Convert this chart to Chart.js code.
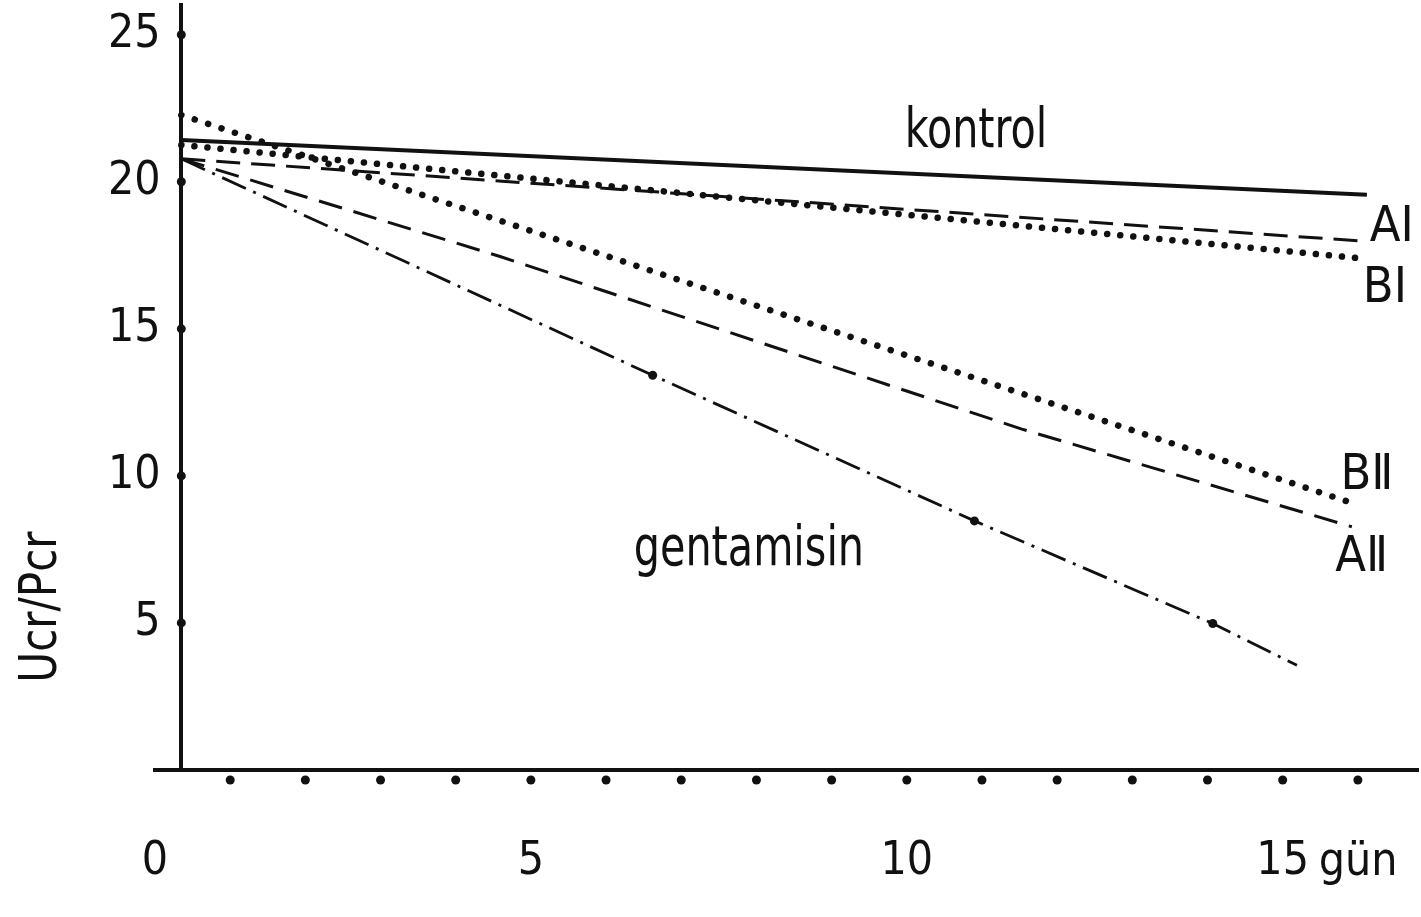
<!DOCTYPE html>
<html>
<head>
<meta charset="utf-8">
<script src="https://cdn.jsdelivr.net/npm/chart.js@4.4.1/dist/chart.umd.min.js"></script>
<style>
html, body { margin: 0; padding: 0; background: #fff; }
#wrap { width: 1421px; height: 917px; }
</style>
</head>
<body>
<div id="wrap"><canvas id="myChart"></canvas></div>
<script>
var FONT = "'Liberation Sans Narrow', 'DejaVu Sans Condensed', 'Liberation Sans', sans-serif";
var INK = '#111';

// values (x = gün, y = Ucr/Pcr)
var kontrolDays = [0.35, 16.12];
var kontrol = [21.42, 19.56];
var aiDays = [0.35, 16.13];
var ai = [20.78, 17.97];
var biDays = [0.35, 16.06];
var bi = [21.25, 17.39];
var biiDays = [0.35, 15.92];
var bii = [22.27, 9.08];
var aiiDays = [0.35, 4.59, 11.53, 15.92];
var aii = [20.78, 17.46, 11.59, 8.27];
var gentDays = [0.35, 6.62, 10.90, 14.07, 15.19];
var gent = [20.78, 13.42, 8.47, 4.98, 3.56];

var yTickValues = [5, 10, 15, 20, 25];
var xDotDays = [1, 2, 3, 4, 5, 6, 7, 8, 9, 10, 11, 12, 13, 14, 15, 16];

// text written next to the lines, placed in data units
var noteTexts = ['kontrol', 'gentamisin', 'A\u2160', 'B\u2160', 'B\u2161', 'A\u2161'];
var noteDays = [10.92, 7.9, 16.45, 16.36, 16.12, 16.05];
var noteValues = [21.69, 7.46, 18.44, 16.34, 10.0, 7.22];

function pts(xs, ys) {
    return xs.map(function(x, i) { return { x: x, y: ys[i] }; });
}

var extras = {
    id: 'extras',
    afterDraw: function(chart) {
        var ctx = chart.ctx;
        var xs = chart.scales.x, ys = chart.scales.y;
        var axisX = xs.getPixelForValue(0.35);
        var axisY = ys.getPixelForValue(0);
        ctx.save();
        ctx.fillStyle = INK;
        // tick dots
        yTickValues.forEach(function(v) {
            ctx.beginPath();
            ctx.arc(axisX, ys.getPixelForValue(v), 4.5, 0, Math.PI * 2);
            ctx.fill();
        });
        xDotDays.forEach(function(d) {
            ctx.beginPath();
            ctx.arc(xs.getPixelForValue(d), axisY + 10, 4.5, 0, Math.PI * 2);
            ctx.fill();
        });
        ctx.textAlign = 'center';
        ctx.textBaseline = 'middle';
        // notes (hand lettering is narrow, so squeeze the big ones)
        noteTexts.forEach(function(t, i) {
            var px = xs.getPixelForValue(noteDays[i]);
            var py = ys.getPixelForValue(noteValues[i]);
            ctx.save();
            if (i < 2) {
                ctx.font = '56px ' + FONT;
                ctx.translate(px, py);
                ctx.scale(0.82, 1);
                ctx.fillText(t, 0, 0);
            } else {
                ctx.font = '50px ' + FONT;
                ctx.fillText(t, px, py);
            }
            ctx.restore();
        });
        // unit after the 15 label
        ctx.font = '46px ' + FONT;
        ctx.textAlign = 'left';
        ctx.textBaseline = 'alphabetic';
        ctx.fillText('gün', xs.getPixelForValue(15) + 36, 875);
        // y title
        ctx.textBaseline = 'middle';
        ctx.translate(42, 607);
        ctx.rotate(-Math.PI / 2);
        ctx.scale(0.9, 1);
        ctx.textAlign = 'center';
        ctx.font = '52px ' + FONT;
        ctx.fillText('Ucr/Pcr', 0, 0);
        ctx.restore();
    }
};

var ctx = document.getElementById('myChart').getContext('2d');
var myChart = new Chart(ctx, {
    type: 'line',
    data: {
        datasets: [{
            label: 'kontrol',
            data: pts(kontrolDays, kontrol),
            borderColor: INK,
            borderWidth: 4
        }, {
            label: 'A I',
            data: pts(aiDays, ai),
            borderColor: INK,
            borderWidth: 3,
            borderDash: [24, 11]
        }, {
            label: 'B I',
            data: pts(biDays, bi),
            borderColor: INK,
            borderWidth: 6.5,
            borderCapStyle: 'round',
            borderDash: [0.1, 13]
        }, {
            label: 'B II',
            data: pts(biiDays, bii),
            borderColor: INK,
            borderWidth: 6.5,
            borderCapStyle: 'round',
            borderDash: [0.1, 14]
        }, {
            label: 'A II',
            data: pts(aiiDays, aii),
            borderColor: INK,
            borderWidth: 3,
            borderDash: [24, 12]
        }, {
            label: 'gentamisin',
            data: pts(gentDays, gent),
            borderColor: INK,
            borderWidth: 2.8,
            borderDash: [26, 8, 3, 8],
            pointBackgroundColor: INK,
            pointBorderWidth: 0,
            pointRadius: function(c) {
                return (c.dataIndex > 0 && c.dataIndex < gent.length - 1) ? 4.5 : 0;
            }
        }]
    },
    options: {
        responsive: true,
        maintainAspectRatio: false,
        animation: false,
        elements: { point: { radius: 0 }, line: { tension: 0 } },
        layout: { padding: { left: 155, right: 3, top: 4, bottom: 0 } },
        plugins: { legend: { display: false }, tooltip: { enabled: false } },
        scales: {
            x: {
                type: 'linear',
                position: 'bottom',
                min: 0,
                max: 16.8,
                grid: { display: false },
                border: { display: true, color: INK, width: 4 },
                ticks: {
                    stepSize: 5,
                    includeBounds: false,
                    autoSkip: false,
                    maxRotation: 0,
                    padding: 56,
                    color: INK,
                    font: { family: FONT, size: 46 },
                    callback: function(v) { return v; }
                },
                afterFit: function(s) { s.height = 147; }
            },
            y: {
                type: 'linear',
                position: { x: 0.35 },
                min: 0,
                max: 26,
                grid: { display: false },
                border: { display: true, color: INK, width: 4 },
                ticks: {
                    stepSize: 5,
                    includeBounds: false,
                    color: INK,
                    font: { family: FONT, size: 46, lineHeight: 0.1 },
                    // axis is placed by value, so keep the gap inside the label
                    callback: function(v) { return v === 0 ? '' : v + '\u2002'; }
                }
            }
        }
    },
    plugins: [extras]
});
</script>
</body>
</html>
